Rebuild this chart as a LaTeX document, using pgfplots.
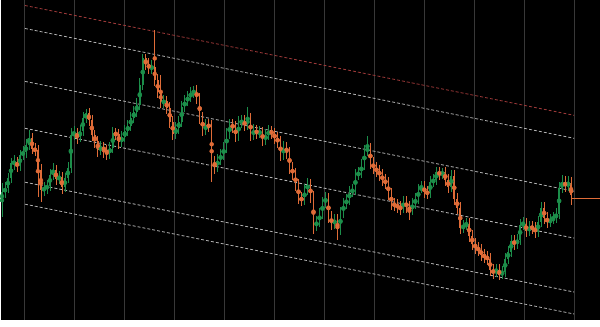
\documentclass[border=0pt]{standalone}
\usepackage{pgfplots}
\usepackage{pgfplotstable}
\pgfplotsset{compat=1.18}
\definecolor{cup}{HTML}{1C8E4A}
\definecolor{cdn}{HTML}{E06C38}
\definecolor{cgrid}{HTML}{383838}
\definecolor{cchan}{HTML}{B4B4B4}
\definecolor{cred}{HTML}{9A3838}
% x open close top bottom  (vertical values in screen units, downwards)
\pgfplotstableread{
x o c t b
1 200 192 183 217
4 192 188 182 198
7 188 178 173 193
10 178 163 158 183
13 163 162 155 170
19 166 155 150 171
22 155 152 146 160
25 152 145 139 158
28 145 138 130 150
43 190 188 182 196
46 188 186 180 194
49 186 175 169 191
52 175 170 163 180
58 179 177 171 184
64 187 178 173 192
67 178 168 162 183
70 168 135 128 173
73 135 133 126 140
79 137 131 125 142
82 131 118 112 136
85 118 113 109 123
100 150 147 141 155
109 153 148 142 159
112 148 133 127 153
121 142 137 131 147
124 137 131 125 142
127 131 126 120 136
130 126 118 112 131
133 118 112 106 123
136 112 105 98 117
139 105 85 78 110
142 85 58 54 90
151 68 67 60 74
163 102 101 95 108
175 134 128 122 139
178 128 122 116 134
181 122 107 101 127
184 107 101 95 112
187 101 97 91 106
190 97 93 87 102
193 93 90 86 98
205 130 125 119 135
217 166 160 154 172
220 160 155 149 165
223 155 148 142 160
226 148 134 128 153
229 134 125 119 139
238 136 122 116 141
241 122 121 115 128
247 125 118 107 130
253 135 130 124 140
259 133 132 126 138
265 140 135 129 145
268 135 131 125 140
283 155 147 141 160
304 200 190 184 205
307 190 184 178 195
316 226 222 216 231
319 222 214 208 227
322 214 203 197 219
325 203 198 192 208
334 224 220 214 229
340 230 213 207 235
343 213 204 198 218
346 204 200 194 209
349 200 192 186 205
352 192 190 184 197
355 190 175 169 195
358 175 173 167 180
361 173 165 159 178
364 165 151 145 170
367 151 148 136 156
403 208 202 196 213
412 210 204 198 215
415 204 199 193 209
418 199 190 184 204
421 190 187 181 193
430 193 182 176 198
433 182 180 174 187
436 180 172 167 185
442 174 172 168 179
451 187 176 170 192
463 228 226 220 233
466 226 224 218 230
496 273 270 264 277
502 275 272 266 279
505 272 259 253 277
508 259 252 246 264
511 252 241 235 257
517 244 240 234 249
520 240 225 219 245
523 225 224 217 230
529 231 227 221 236
538 232 222 216 237
541 222 208 202 227
550 222 220 214 227
553 220 218 212 224
556 218 214 208 223
559 214 188 182 219
562 188 182 175 193
568 186 183 176 191
}\up
\pgfplotstableread{
x o c t b
16 162 166 157 172
31 138 149 133 154
34 149 150 143 156
37 150 170 145 197
40 170 190 164 202
55 170 179 165 185
61 177 187 172 194
76 133 137 128 144
88 113 120 108 126
91 120 135 115 141
94 135 141 130 148
97 141 150 136 157
103 147 150 142 158
106 150 153 145 160
115 133 134 128 140
118 134 142 129 149
145 58 64 54 70
148 64 68 58 74
154 67 80 30 86
157 80 92 74 98
160 92 102 75 108
166 101 108 96 114
169 108 122 102 128
172 122 134 116 140
196 90 98 85 104
199 98 118 93 124
202 118 130 112 136
208 125 126 119 132
211 126 162 120 182
214 162 166 156 174
232 125 127 119 133
235 127 136 121 142
244 121 125 115 131
250 118 135 113 141
256 130 133 125 139
262 132 140 127 146
271 131 133 126 139
274 133 138 128 144
277 138 142 132 148
280 142 155 136 161
286 147 152 142 159
289 152 168 147 174
292 168 174 162 180
295 174 185 168 191
298 185 198 179 204
301 198 200 192 206
310 184 197 179 203
313 197 226 191 234
328 198 217 193 223
331 217 224 211 230
337 220 230 214 240
370 148 163 143 169
373 163 168 157 174
376 168 171 162 177
379 171 175 165 181
382 175 180 169 186
385 180 183 174 189
388 183 194 177 200
391 194 204 188 210
394 204 205 198 211
397 205 207 199 213
400 207 208 201 215
406 202 207 196 213
409 207 210 201 220
424 187 192 181 198
427 192 193 186 199
439 172 174 167 180
445 172 180 167 186
448 180 187 174 193
454 176 199 170 205
457 199 208 193 214
460 208 228 202 234
469 224 236 218 242
472 236 244 230 250
475 244 248 238 254
478 248 250 242 256
481 250 255 244 261
484 255 257 249 263
487 257 259 251 265
490 259 270 253 276
493 270 273 264 279
499 270 275 264 280
514 241 244 235 250
526 224 231 218 237
532 227 228 221 234
535 228 232 222 238
544 208 218 202 224
547 218 222 212 228
565 182 186 176 192
571 183 195 177 205
}\dn
\begin{document}
\begin{tikzpicture}
\begin{axis}[
  width=600pt, height=320pt, scale only axis,
  xmin=0, xmax=600, ymin=0, ymax=320, y dir=reverse,
  axis background/.style={fill=black},
  axis line style={draw=none},
  xtick={24,74,...,574}, xticklabels={}, ytick=\empty,
  tick style={draw=none},
  xmajorgrids, major grid style={color=cgrid, line width=1pt},
  clip=true,
]
% channel lines
\addplot[cred, line width=0.8pt, dash pattern=on 3pt off 2pt] coordinates {(24,5) (574,115)};
\addplot[cchan, line width=0.8pt, dash pattern=on 3pt off 2pt] coordinates {(24,28) (574,138)};
\addplot[cchan, line width=0.8pt, dash pattern=on 3pt off 2pt] coordinates {(24,81) (574,191)};
\addplot[cchan, line width=0.8pt, dash pattern=on 3pt off 2pt] coordinates {(24,128) (574,238)};
\addplot[cchan, line width=0.8pt, dash pattern=on 3pt off 2pt] coordinates {(24,182) (574,292)};
\addplot[cchan, line width=0.8pt, dash pattern=on 3pt off 2pt] coordinates {(24,204) (574,314)};
% wicks
\addplot[cup, only marks, mark=none, error bars/.cd, y dir=both, y explicit, error mark=none,
  error bar style={color=cup, line width=0.7pt}]
  table[x=x, y expr=(\thisrow{t}+\thisrow{b})/2, y error expr=(\thisrow{b}-\thisrow{t})/2] {\up};
\addplot[cdn, only marks, mark=none, error bars/.cd, y dir=both, y explicit, error mark=none,
  error bar style={color=cdn, line width=0.7pt}]
  table[x=x, y expr=(\thisrow{t}+\thisrow{b})/2, y error expr=(\thisrow{b}-\thisrow{t})/2] {\dn};
% bodies
\addplot[cup, only marks, mark=none, error bars/.cd, y dir=both, y explicit, error mark=none,
  error bar style={color=cup, line width=1.6pt}]
  table[x=x, y expr=(\thisrow{o}+\thisrow{c})/2, y error expr={max(abs(\thisrow{c}-\thisrow{o})/2,0.7)}] {\up};
\addplot[cdn, only marks, mark=none, error bars/.cd, y dir=both, y explicit, error mark=none,
  error bar style={color=cdn, line width=1.6pt}]
  table[x=x, y expr=(\thisrow{o}+\thisrow{c})/2, y error expr={max(abs(\thisrow{c}-\thisrow{o})/2,0.7)}] {\dn};
% last price line
\addplot[cdn, line width=1.2pt] coordinates {(572,198.5) (600,198.5)};
\end{axis}
\end{tikzpicture}
\end{document}
